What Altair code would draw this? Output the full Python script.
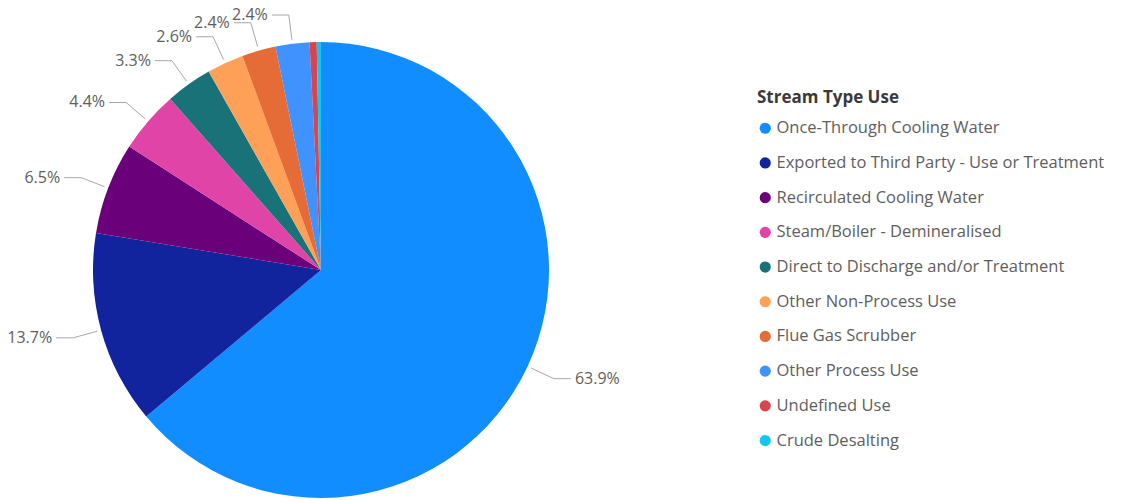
import altair as alt
import pandas as pd

categories = [
    "Once-Through Cooling Water",
    "Exported to Third Party - Use or Treatment",
    "Recirculated Cooling Water",
    "Steam/Boiler - Demineralised",
    "Direct to Discharge and/or Treatment",
    "Other Non-Process Use",
    "Flue Gas Scrubber",
    "Other Process Use",
    "Undefined Use",
    "Crude Desalting",
]
shares = [63.9, 13.7, 6.5, 4.4, 3.3, 2.6, 2.4, 2.4, 0.5, 0.3]
colors = [
    "#118DFF", "#12239E", "#6B007B", "#E044A7", "#197278",
    "#FFA058", "#E66C37", "#4092FF", "#D64550", "#15C6F4",
]

df = pd.DataFrame({"cat": categories, "share": shares, "idx": list(range(len(categories)))})

W, H = 1122, 500
CX, CY = 321, 270
R = 228
R_IN = R + 4
R_OUT = R + 29
HSEG = 17
GAP = 4
FONT = "Open Sans"

xs = alt.Scale(domain=[-CX, W - CX], range=[0, W])
ys = alt.Scale(domain=[-(H - CY), CY], range=[H, 0])

base = (
    alt.Chart(df)
    .transform_joinaggregate(total="sum(share)")
    .transform_window(cum="sum(share)", sort=[alt.SortField("idx")], frame=[None, 0])
    .transform_calculate(
        zero="0",
        mid="(datum.cum - datum.share / 2) / datum.total * 2 * PI",
    )
    .transform_calculate(
        side="sin(datum.mid) >= 0 ? 1 : -1",
        ax=f"{R_IN} * sin(datum.mid)",
        ay=f"{R_IN} * cos(datum.mid)",
        bx=f"{R_OUT} * sin(datum.mid)",
        by=f"{R_OUT} * cos(datum.mid)",
        label="format(datum.share, '.1f') + '%'",
    )
    .transform_calculate(
        cx=f"datum.bx + datum.side * {HSEG}",
        tx=f"datum.bx + datum.side * {HSEG + GAP}",
    )
)

arcs = base.mark_arc(outerRadius=R).encode(
    theta=alt.Theta("share:Q", stack=True),
    order=alt.Order("idx:Q"),
    color=alt.Color(
        "cat:N",
        scale=alt.Scale(domain=categories, range=colors),
        legend=alt.Legend(
            title="Stream Type Use",
            orient="none",
            legendX=757,
            legendY=90,
            padding=0,
            titleFont=FONT,
            titleFontSize=17,
            titleFontWeight="bold",
            titleColor="#3A3A3A",
            titlePadding=13,
            labelFont=FONT,
            labelFontSize=16.5,
            labelColor="#605E5C",
            labelLimit=400,
            labelOffset=3,
            symbolType="circle",
            symbolSize=125,
            symbolStrokeWidth=0,
            rowPadding=17.7,
        ),
    ),
    x=alt.X("zero:Q", scale=xs, axis=None),
    y=alt.Y("zero:Q", scale=ys, axis=None),
)

labeled = base.transform_filter("datum.share >= 1")

radial = labeled.mark_rule(color="#A8A8A8", strokeWidth=1).encode(
    x=alt.X("ax:Q", scale=xs, axis=None),
    y=alt.Y("ay:Q", scale=ys, axis=None),
    x2="bx:Q",
    y2="by:Q",
)

horiz = labeled.mark_rule(color="#A8A8A8", strokeWidth=1).encode(
    x=alt.X("bx:Q", scale=xs, axis=None),
    y=alt.Y("by:Q", scale=ys, axis=None),
    x2="cx:Q",
)

text_right = labeled.transform_filter("datum.side > 0").mark_text(
    align="left", baseline="middle", font=FONT, fontSize=16, color="#605E5C"
).encode(
    x=alt.X("tx:Q", scale=xs, axis=None),
    y=alt.Y("by:Q", scale=ys, axis=None),
    text="label:N",
)

text_left = labeled.transform_filter("datum.side < 0").mark_text(
    align="right", baseline="middle", font=FONT, fontSize=16, color="#605E5C"
).encode(
    x=alt.X("tx:Q", scale=xs, axis=None),
    y=alt.Y("by:Q", scale=ys, axis=None),
    text="label:N",
)

chart = (
    alt.layer(arcs, radial, horiz, text_right, text_left)
    .properties(width=W, height=H, padding=0, autosize="none", background="white")
    .configure_view(stroke=None)
)

chart.save("out.html", embed_options={"renderer": "svg", "actions": False})
